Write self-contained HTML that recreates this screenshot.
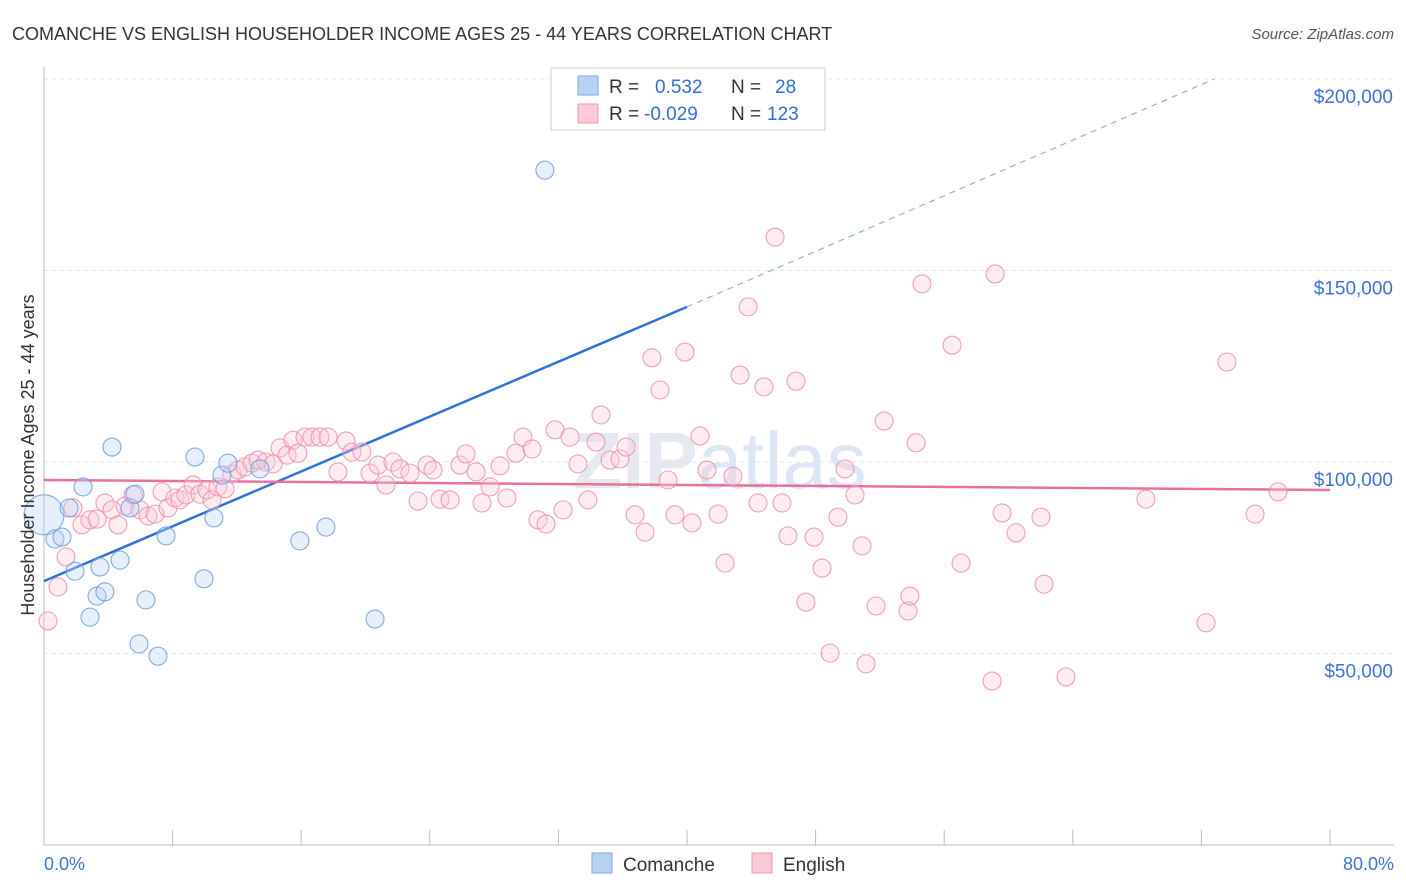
<!DOCTYPE html>
<html><head><meta charset="utf-8">
<style>
body{margin:0;background:#fff;font-family:"Liberation Sans",sans-serif;}
#wrap{position:relative;width:1406px;height:892px;overflow:hidden;}
</style></head>
<body>
<div id="wrap">
<svg id="chart" width="1406" height="892" xmlns="http://www.w3.org/2000/svg">
<text x="12" y="40" font-size="18" fill="#333">COMANCHE VS ENGLISH HOUSEHOLDER INCOME AGES 25 - 44 YEARS CORRELATION CHART</text>
<text x="1394" y="39" font-size="15" fill="#555" font-style="italic" text-anchor="end">Source: ZipAtlas.com</text>
<text x="720" y="488" font-size="80" fill="#e6eaf0" text-anchor="middle" font-weight="bold">ZIP<tspan font-weight="normal" fill="#dce6f4">atlas</tspan></text>
<g id="grid"></g>
<g id="axes"></g>
<g id="lines"></g>
<g id="points"></g>
<text transform="translate(34,455) rotate(-90)" font-size="18" fill="#333" text-anchor="middle">Householder Income Ages 25 - 44 years</text>
<text x="44" y="870" font-size="18" fill="#3b74d0">0.0%</text>
<text x="1394" y="870" font-size="18" fill="#3b74d0" text-anchor="end">80.0%</text>
<g>
<rect x="551" y="68" width="274" height="62" fill="#fff" stroke="#ccc"/>
<rect x="578" y="76" width="20" height="19" fill="#b9d2f3" stroke="#7ea6e0"/>
<rect x="578" y="104" width="20" height="19" fill="#fbc8d6" stroke="#ee9ab4"/>
<text x="609" y="93" font-size="19" fill="#333">R = </text>
<text x="655" y="93" font-size="19" fill="#2f6fd0">0.532</text>
<text x="731" y="93" font-size="19" fill="#333">N = </text>
<text x="775" y="93" font-size="19" fill="#2f6fd0">28</text>
<text x="609" y="120" font-size="19" fill="#333">R = </text>
<text x="644" y="120" font-size="19" fill="#2f6fd0">-0.029</text>
<text x="731" y="120" font-size="19" fill="#333">N = </text>
<text x="767" y="120" font-size="19" fill="#2f6fd0">123</text>
</g>
<g>
<rect x="592" y="853" width="20" height="20" fill="#b9d2f3" stroke="#7ea6e0"/>
<text x="623" y="871" font-size="19" fill="#333">Comanche</text>
<rect x="752" y="853" width="20" height="20" fill="#fbc8d6" stroke="#ee9ab4"/>
<text x="783" y="871" font-size="19" fill="#333">English</text>
</g>
</svg>
</div>
<script>
const yTicks=[50,100,150,200];
const yTickLabels=["$50,000","$100,000","$150,000","$200,000"];
const xTickValues=[0,8,16,24,32,40,48,56,64,72,80];
const comancheX=[0,0.68,1.12,1.56,1.93,2.43,2.86,3.30,3.48,3.79,4.23,4.73,5.35,5.66,5.91,6.34,7.09,7.59,9.39,9.95,10.57,11.07,11.44,13.43,15.92,17.54,20.59,31.16];
const comancheY=[86.2,79.9,80.4,88.0,71.5,93.5,59.5,65.0,72.6,66.1,103.9,74.4,88.0,91.6,52.5,64.0,49.3,80.7,101.3,69.5,85.4,96.6,99.7,98.2,79.4,83.0,59.0,176.2];
const englishX=[0.25,0.87,1.37,1.80,2.36,2.86,3.30,3.79,4.23,4.60,5.04,5.54,5.97,6.47,6.91,7.34,7.71,8.15,8.46,8.83,9.27,9.70,10.14,10.45,10.82,11.26,11.69,12.07,12.50,12.94,13.31,13.81,14.25,14.68,15.12,15.49,15.80,16.24,16.67,17.17,17.67,18.29,18.79,19.16,19.78,20.28,20.78,21.28,21.71,22.15,22.77,23.27,23.83,24.20,24.64,25.26,25.88,26.25,26.88,27.25,27.75,28.37,28.80,29.36,29.80,30.36,30.73,31.23,31.79,32.29,32.72,33.22,33.84,34.34,34.65,35.21,35.83,36.21,36.77,37.39,37.82,38.32,38.82,39.25,39.87,40.31,40.81,41.24,41.93,42.37,42.86,43.30,43.80,44.42,44.79,45.48,45.91,46.28,46.78,47.40,47.90,48.40,48.90,49.39,49.83,50.45,50.89,51.14,51.76,52.26,53.75,53.87,54.25,54.62,56.49,57.05,58.98,59.16,59.60,60.47,62.02,62.21,63.58,68.55,72.29,73.59,75.34,76.77];
const englishY=[58.5,67.4,75.2,88.0,83.6,84.9,85.1,89.3,87.5,83.6,88.5,91.4,87.5,85.9,86.4,92.2,88.0,90.6,90.1,91.4,94.0,91.6,92.7,90.1,93.5,93.0,96.9,97.9,98.7,99.7,100.5,100,99.5,103.7,101.8,105.7,102.3,106.5,106.5,106.5,106.5,97.4,105.5,102.6,102.6,97.1,99.2,94.0,100,98.2,97.1,89.8,99.2,97.9,90.3,90.1,99.2,102.1,97.4,89.3,93.5,99.0,90.6,102.3,106.5,103.4,84.9,83.8,108.4,87.5,106.5,99.5,90.1,105.2,112.3,100.5,100.8,103.9,86.2,81.7,127.2,118.8,95.3,86.2,128.7,84.1,106.8,97.9,86.4,73.6,96.3,122.7,140.5,89.3,119.6,158.7,89.3,80.7,121.1,63.4,80.4,72.3,50.1,85.6,98.2,91.4,78.1,47.3,62.4,110.7,61.1,65.0,105.0,146.5,130.5,73.6,42.8,149.1,86.7,81.5,85.6,68.1,43.9,90.3,58.0,126.1,86.4,92.2];
const blueTrend=[[0,68.9],[40,140.5]];
const blueDash=[[40,140.5],[72.8,200]];
const pinkTrend=[[0,95.3],[80,92.7]];

const NS="http://www.w3.org/2000/svg";
const X=v=>44+v*(1286/80);
const Y=v=>462-(v-100)*(191.5/50);
function mk(tag,attrs,parent){const e=document.createElementNS(NS,tag);for(const k in attrs)e.setAttribute(k,attrs[k]);parent.appendChild(e);return e;}
const grid=document.getElementById('grid'),axes=document.getElementById('axes'),lines=document.getElementById('lines'),pts=document.getElementById('points');
yTicks.forEach((t,i)=>{
 const l=mk('line',{x1:44,y1:Y(t),x2:1394,y2:Y(t),stroke:'#e4e4e4','stroke-dasharray':'4,4'},grid);
 
 
 const tx=mk('text',{x:1393,y:Y(t)+24,'font-size':19,fill:'#3b74d0','text-anchor':'end'},axes);
 tx.textContent=yTickLabels[i];
 
 
});
const ya=mk('line',{x1:44,y1:67,x2:44,y2:845,stroke:'#bbb'},axes);


const xa=mk('line',{x1:44,y1:845,x2:1394,y2:845,stroke:'#bbb'},axes);


xTickValues.forEach(v=>{
 const t=mk('line',{x1:X(v),y1:830,x2:X(v),y2:845,stroke:'#bbb'},axes);
 
 
});
function drawPts(xs,ys,fill,stroke,name){
 xs.forEach((x,i)=>{
  const r=(name==='comanche-point'&&i===0)?20:9;
  const c=mk('circle',{cx:X(x),cy:Y(ys[i]),r:r,fill:fill,'fill-opacity':0.35,stroke:stroke,'stroke-width':1.1,'stroke-opacity':0.85},pts);
  
  
 });
}
drawPts(englishX,englishY,'#fbc8d6','#ee8fb0','english-point');
drawPts(comancheX,comancheY,'#b9d2f3','#6c9ee0','comanche-point');
const bl=mk('line',{x1:X(blueTrend[0][0]),y1:Y(blueTrend[0][1]),x2:X(blueTrend[1][0]),y2:Y(blueTrend[1][1]),stroke:'#2f72d6','stroke-width':2.5},lines);


const bd=mk('line',{x1:X(blueDash[0][0]),y1:Y(blueDash[0][1]),x2:X(blueDash[1][0]),y2:Y(blueDash[1][1]),stroke:'#8fb2e6','stroke-width':1.2,'stroke-dasharray':'6,5'},lines);


const pl=mk('line',{x1:X(pinkTrend[0][0]),y1:Y(pinkTrend[0][1]),x2:X(pinkTrend[1][0]),y2:Y(pinkTrend[1][1]),stroke:'#e8709a','stroke-width':2.5},lines);


</script>
</body></html>
